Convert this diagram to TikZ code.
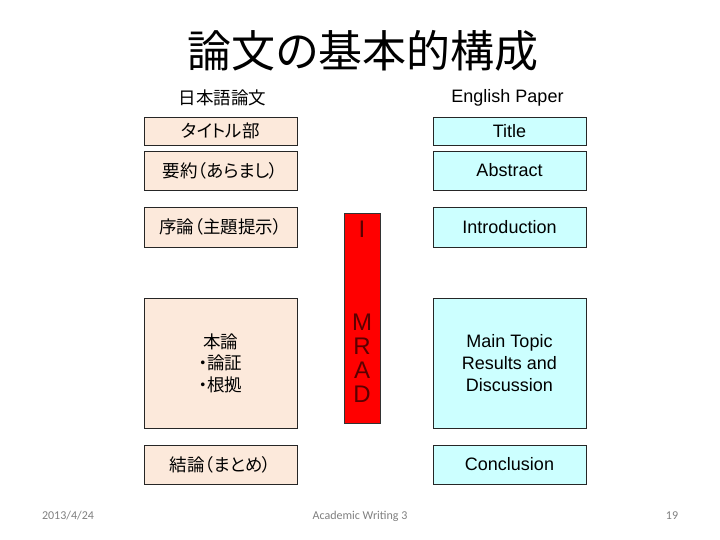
\documentclass[tikz,border=0pt]{standalone}
\usepackage{fontspec}
\setmainfont{Liberation Sans}
\newfontfamily\jpfont[RawFeature=+palt]{Noto Sans CJK JP}
\newfontfamily\footfont{Carlito}
\definecolor{peach}{HTML}{FCE9DB}
\definecolor{lcyan}{HTML}{CCFFFF}
\definecolor{barred}{HTML}{FF0000}
\definecolor{bartext}{HTML}{5A0000}
\definecolor{footgray}{HTML}{808080}
\tikzset{
  jbox/.style={draw=black!85, line width=0.9pt, fill=peach, minimum width=153pt, inner sep=0pt, align=center,
    font=\jpfont\fontsize{17.5}{21.5}\selectfont},
  ebox/.style={draw=black!85, line width=0.9pt, fill=lcyan, minimum width=153pt, inner sep=0pt, align=center,
    font=\fontsize{18}{21.6}\selectfont},
  hdr/.style={inner sep=0pt},
  bartxt/.style={inner sep=0pt, align=center, text=bartext, font=\fontsize{24}{24}\selectfont},
  foot/.style={inner sep=0pt, text=footgray, font=\footfont\fontsize{12}{14}\selectfont}
}
\begin{document}
\begin{tikzpicture}[x=1pt,y=-1pt]
\useasboundingbox (0,0) rectangle (720,540);
\fill[white] (0,0) rectangle (720,540);
% title
\node[hdr, font=\jpfont\fontsize{44}{48}\selectfont] (title) at (363,51) {論文の基本的構成};
% headers
\node[hdr, font=\jpfont\fontsize{17.5}{21}\selectfont] (hj) at (222.5,98) {日本語論文};
\node[hdr, font=\fontsize{18}{21.6}\selectfont] (he) at (507.5,98) {English Paper};
% left boxes
\node[jbox, minimum height=28pt] (jtitle) at (220.5,131) {タイトル部};
\node[jbox, minimum height=39pt] (jabs) at (220.5,170.5) {要約（あらまし）};
\node[jbox, minimum height=40pt] (jintro) at (220.5,227) {序論（主題提示）};
\node[jbox, minimum height=130pt] (jmain) at (220.5,363) {本論\\・論証\\・根拠};
\node[jbox, minimum height=39pt] (jconc) at (220.5,464.5) {結論（まとめ）};
% right boxes
\node[ebox, minimum height=28pt] (etitle) at (509.5,131) {Title};
\node[ebox, minimum height=39pt] (eabs) at (509.5,170.5) {Abstract};
\node[ebox, minimum height=40pt] (eintro) at (509.5,227) {Introduction};
\node[ebox, minimum height=130pt] (emain) at (509.5,363) {Main Topic\\Results and\\Discussion};
\node[ebox, minimum height=39pt] (econc) at (509.5,464.5) {Conclusion};
% red bar
\node[draw=black!80, line width=0.9pt, fill=barred, minimum width=36pt, minimum height=210pt, inner sep=0pt] (bar) at (362,318) {};
\node[bartxt] (bi) at (362,229) {I};
\node[bartxt] (bmrad) at (362,358) {M\\R\\A\\D};
% footer
\node[foot] (fdate) at (68,516) {2013/4/24};
\node[foot] (fcourse) at (360,516) {Academic Writing 3};
\node[foot] (fpage) at (672,516) {19};
\end{tikzpicture}
\end{document}
